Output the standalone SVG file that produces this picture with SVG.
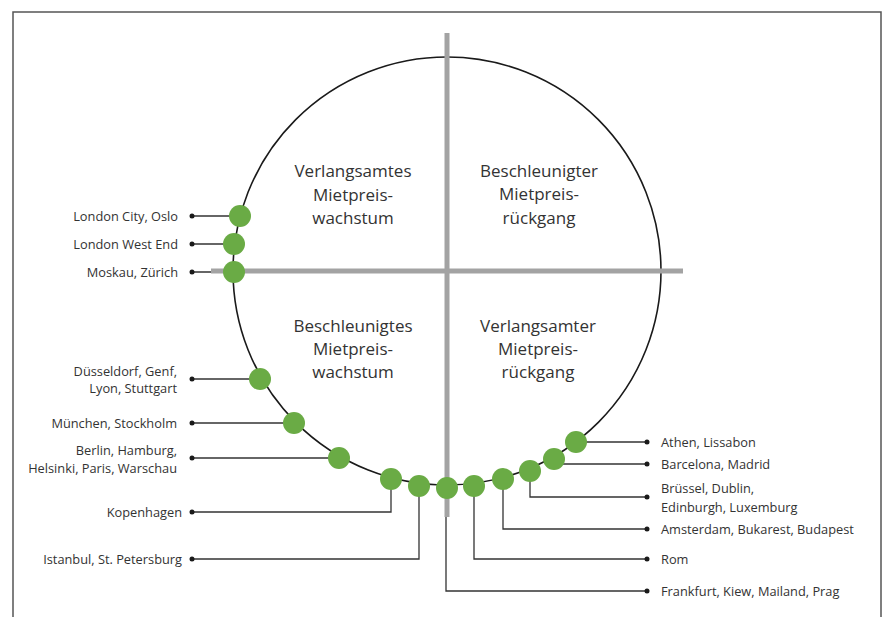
<svg xmlns="http://www.w3.org/2000/svg" width="884" height="617" viewBox="0 0 884 617">
<style>
.frame{fill:none;stroke:#555;stroke-width:1.5}
.ring{fill:none;stroke:#1a1a1a;stroke-width:1.6}
.axis{stroke:#a3a3a3;stroke-width:5;fill:none}
.lead{fill:none;stroke:#333;stroke-width:1.3}
.end{fill:#1a1a1a}
.pt{fill:#6aab45}
.q{font-family:"Open Sans",sans-serif;font-size:17px;fill:#333;text-anchor:middle}
.l{font-family:"Open Sans",sans-serif;font-size:12.8px;fill:#333}
.r{text-anchor:end}
</style>
<rect width="884" height="617" fill="#fff"/>
<path class="frame" d="M13,617 V12 H881 V617"/>
<g id="circle"><circle class="ring" cx="447" cy="271" r="214"/></g>
<g id="connectors">
<path class="lead" d="M192,216 H240"/>
<path class="lead" d="M192,244 H234"/>
<path class="lead" d="M192,272 H234"/>
<path class="lead" d="M192,379 H260"/>
<path class="lead" d="M192,423 H294"/>
<path class="lead" d="M192,458 H339"/>
<path class="lead" d="M391,479 V512 H192"/>
<path class="lead" d="M419,486 V559 H192"/>
<path class="lead" d="M446,488 V591 H647"/>
<path class="lead" d="M474,486 V559 H647"/>
<path class="lead" d="M503,479 V529 H647"/>
<path class="lead" d="M530,471 V497 H647"/>
<path class="lead" d="M554,464 H647"/>
<path class="lead" d="M576,442 H647"/>
<circle class="end" cx="192" cy="216" r="2.5"/>
<circle class="end" cx="192" cy="244" r="2.5"/>
<circle class="end" cx="192" cy="272" r="2.5"/>
<circle class="end" cx="192" cy="379" r="2.5"/>
<circle class="end" cx="192" cy="423" r="2.5"/>
<circle class="end" cx="192" cy="458" r="2.5"/>
<circle class="end" cx="192" cy="512" r="2.5"/>
<circle class="end" cx="192" cy="559" r="2.5"/>
<circle class="end" cx="647" cy="591" r="2.5"/>
<circle class="end" cx="647" cy="559" r="2.5"/>
<circle class="end" cx="647" cy="529" r="2.5"/>
<circle class="end" cx="647" cy="497" r="2.5"/>
<circle class="end" cx="647" cy="464" r="2.5"/>
<circle class="end" cx="647" cy="442" r="2.5"/>
</g>
<g id="axes">
<path class="axis" d="M447,33 V517"/>
<path class="axis" d="M211,271 H683"/>
</g>
<g id="quadrants">
<text class="q" x="353" y="177">Verlangsamtes</text>
<text class="q" x="353" y="201">Mietpreis-</text>
<text class="q" x="353" y="224">wachstum</text>
<text class="q" x="539" y="177">Beschleunigter</text>
<text class="q" x="539" y="200">Mietpreis-</text>
<text class="q" x="539" y="224">rückgang</text>
<text class="q" x="353" y="332">Beschleunigtes</text>
<text class="q" x="353" y="355">Mietpreis-</text>
<text class="q" x="353" y="378">wachstum</text>
<text class="q" x="538" y="332">Verlangsamter</text>
<text class="q" x="538" y="355">Mietpreis-</text>
<text class="q" x="538" y="378">rückgang</text>
</g>
<g id="n1"><circle class="pt" cx="240" cy="216" r="11"/><text class="l r" x="178" y="220.5">London City, Oslo</text></g>
<g id="n2"><circle class="pt" cx="234" cy="244" r="11"/><text class="l r" x="178" y="248.5">London West End</text></g>
<g id="n3"><circle class="pt" cx="234" cy="272" r="11"/><text class="l r" x="178" y="276.5">Moskau, Zürich</text></g>
<g id="n4"><circle class="pt" cx="260" cy="379" r="11"/><text class="l r" x="177" y="375.5">Düsseldorf, Genf,</text><text class="l r" x="177" y="392.5">Lyon, Stuttgart</text></g>
<g id="n5"><circle class="pt" cx="294" cy="423" r="11"/><text class="l r" x="177" y="427.5">München, Stockholm</text></g>
<g id="n6"><circle class="pt" cx="339" cy="458" r="11"/><text class="l r" x="177" y="454.5">Berlin, Hamburg,</text><text class="l r" x="177" y="472.5">Helsinki, Paris, Warschau</text></g>
<g id="n7"><circle class="pt" cx="391" cy="479" r="11"/><text class="l r" x="182" y="516.5">Kopenhagen</text></g>
<g id="n8"><circle class="pt" cx="419" cy="486" r="11"/><text class="l r" x="182" y="563.5">Istanbul, St. Petersburg</text></g>
<g id="n9"><circle class="pt" cx="447" cy="488" r="11"/><text class="l" x="661" y="595.5">Frankfurt, Kiew, Mailand, Prag</text></g>
<g id="n10"><circle class="pt" cx="474" cy="486" r="11"/><text class="l" x="661" y="563.5">Rom</text></g>
<g id="n11"><circle class="pt" cx="503" cy="479" r="11"/><text class="l" x="661" y="533.5">Amsterdam, Bukarest, Budapest</text></g>
<g id="n12"><circle class="pt" cx="530" cy="471" r="11"/><text class="l" x="661" y="492.5">Brüssel, Dublin,</text><text class="l" x="661" y="511.5">Edinburgh, Luxemburg</text></g>
<g id="n13"><circle class="pt" cx="554" cy="459" r="11"/><text class="l" x="661" y="468.5">Barcelona, Madrid</text></g>
<g id="n14"><circle class="pt" cx="576" cy="442" r="11"/><text class="l" x="661" y="446.5">Athen, Lissabon</text></g>
</svg>
